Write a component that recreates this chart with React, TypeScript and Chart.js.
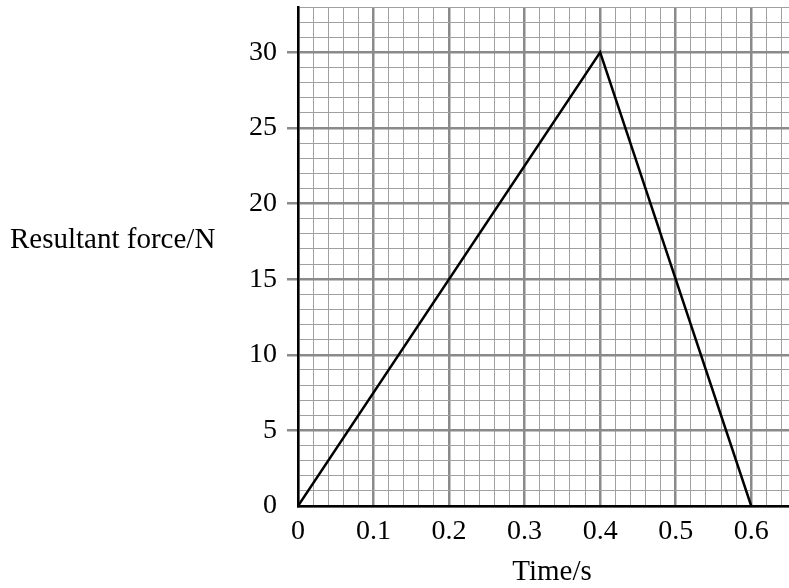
import { useEffect, useRef } from 'react';
import { Chart, registerables } from 'chart.js';

Chart.register(...registerables);

// Data
const timeS = [0, 0.4, 0.6];
const forceN = [0, 30, 0];

// Axis settings
const xTitle = 'Time/s';
const yTitle = 'Resultant force/N';
const xMin = 0;
const xMax = 0.65;
const xMinorStep = 0.02;
const xMajorStep = 0.1;
const yMin = 0;
const yMax = 33;
const yMinorStep = 1;
const yMajorStep = 5;

const FONT = '"Liberation Serif", "Times New Roman", serif';
const MAJOR_COLOR = '#8a8a8a';
const MINOR_COLOR = '#a0a0a0';

function isMajor(v: number, step: number) {
  return Math.abs(v / step - Math.round(v / step)) < 1e-6;
}

const titlePlugin = {
  id: 'axisTitles',
  afterDraw(chart: any) {
    const { ctx, chartArea } = chart;
    ctx.save();
    ctx.fillStyle = '#000';
    ctx.font = `29px ${FONT}`;
    ctx.textBaseline = 'alphabetic';
    ctx.textAlign = 'left';
    ctx.fillText(yTitle, 10, 248);
    ctx.textAlign = 'center';
    ctx.fillText(xTitle, chartArea.left + 254, 580);
    ctx.restore();
  },
};

export default function App() {
  const ref = useRef<HTMLCanvasElement>(null);
  useEffect(() => {
    if (!ref.current) return;
    const chart = new Chart(ref.current, {
      type: 'line',
      data: {
        datasets: [
          {
            data: timeS.map((t, i) => ({ x: t, y: forceN[i] })),
            borderColor: '#000',
            borderWidth: 2.5,
            pointRadius: 0,
            tension: 0,
            fill: false,
          },
        ],
      },
      options: {
        animation: false,
        responsive: false,
        devicePixelRatio: 1,
        layout: { padding: { top: 7, left: 0, right: -1, bottom: 0 } },
        plugins: { legend: { display: false }, tooltip: { enabled: false }, title: { display: false } },
        scales: {
          x: {
            type: 'linear',
            min: xMin,
            max: xMax,
            afterFit(scale: any) {
              scale.height = 82;
              scale.paddingLeft = 0;
              scale.paddingRight = 0;
            },
            border: { color: '#000', width: 2.5 },
            grid: {
              drawTicks: false,
              color: (c: any) => (isMajor(c.tick.value, xMajorStep) ? MAJOR_COLOR : MINOR_COLOR),
              lineWidth: (c: any) => (isMajor(c.tick.value, xMajorStep) ? 2.5 : 1),
            },
            ticks: {
              stepSize: xMinorStep,
              includeBounds: false,
              autoSkip: false,
              maxRotation: 0,
              padding: 9,
              color: '#000',
              font: { family: FONT, size: 28 },
              callback: (v: any) => {
                const n = Number(v);
                if (!isMajor(n, xMajorStep)) return '';
                return n === 0 ? '0' : n.toFixed(1);
              },
            },
          },
          y: {
            type: 'linear',
            min: yMin,
            max: yMax,
            afterFit(scale: any) {
              scale.width = 298;
              scale.paddingTop = 0;
              scale.paddingBottom = 0;
            },
            border: { color: '#000', width: 2.5 },
            grid: {
              drawTicks: true,
              tickLength: 11,
              color: (c: any) => (isMajor(c.tick.value, yMajorStep) ? MAJOR_COLOR : MINOR_COLOR),
              tickColor: (c: any) =>
                isMajor(c.tick.value, yMajorStep) && c.tick.value !== 0 ? MAJOR_COLOR : 'rgba(0,0,0,0)',
              lineWidth: (c: any) => (isMajor(c.tick.value, yMajorStep) ? 2.5 : 1),
              tickWidth: 2.5,
            },
            ticks: {
              stepSize: yMinorStep,
              autoSkip: false,
              padding: 10,
              color: '#000',
              font: { family: FONT, size: 28 },
              callback: (v: any) => {
                const n = Number(v);
                if (!isMajor(n, yMajorStep)) return '';
                return String(n);
              },
            },
          },
        },
      },
      plugins: [titlePlugin],
    } as any);
    return () => chart.destroy();
  }, []);

  return (
    <div style={{ position: 'absolute', left: 0, top: 0, width: 789, height: 588, background: '#fff' }}>
      <canvas ref={ref} width={789} height={588} style={{ display: 'block' }} />
    </div>
  );
}
